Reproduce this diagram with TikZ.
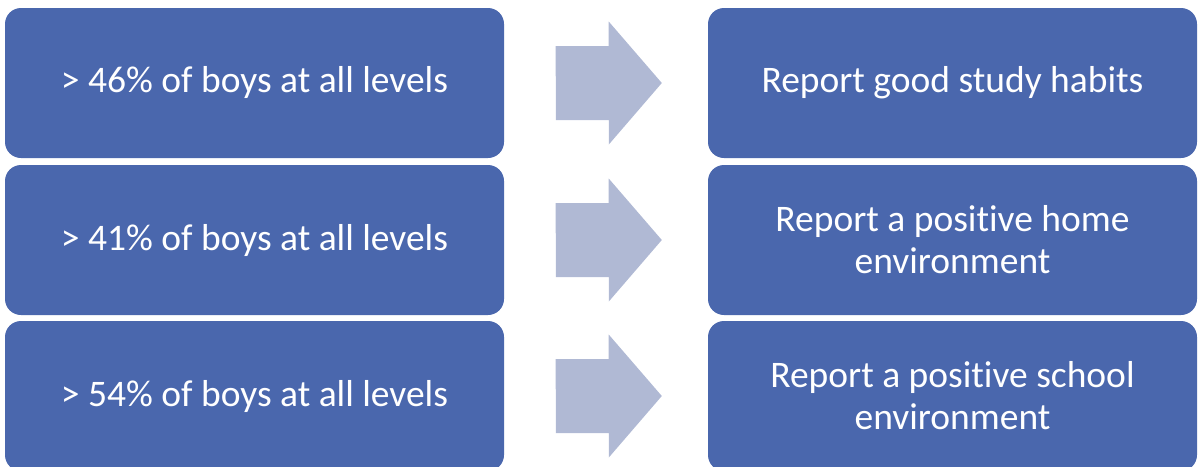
\documentclass[tikz,border=0pt]{standalone}
\usepackage{fontspec}
\setmainfont[Ligatures={NoCommon}]{Carlito}
\definecolor{boxblue}{RGB}{74,103,173}
\definecolor{arrowblue}{RGB}{176,185,212}
\begin{document}
\begin{tikzpicture}[x=1pt,y=-1pt,
  box/.style={rectangle,rounded corners=16pt,fill=boxblue,text=white,
    minimum height=150pt,inner sep=0pt,align=center,
    font=\fontsize{37.5}{42}\selectfont},
  lbox/.style={box,minimum width=499pt},
  rbox/.style={box,minimum width=489pt},
  bigarrow/.style={fill=arrowblue}]
\useasboundingbox (0,0) rectangle (1198,466);
\node[lbox] (l1) at (254.5,83) {> 46\% of boys at all levels};
\node[lbox] (l2) at (254.5,240) {> 41\% of boys at all levels};
\node[lbox] (l3) at (254.5,396) {> 54\% of boys at all levels};
\node[rbox] (r1) at (952.5,83) {Report good study habits};
\node[rbox] (r2) at (952.5,240) {Report a positive home\\environment};
\node[rbox] (r3) at (952.5,396) {Report a positive school\\environment};
\foreach \r in {1,2,3}{
  \fill[bigarrow] (l\r.east) ++(51.5,-37) -- ++(53,0) -- ++(0,-24.5)
    -- ([xshift=-46pt]r\r.west) -- ++(-53,61.5)
    -- ++(0,-24.5) -- ++(-53,0) -- cycle;
}
\end{tikzpicture}
\end{document}
